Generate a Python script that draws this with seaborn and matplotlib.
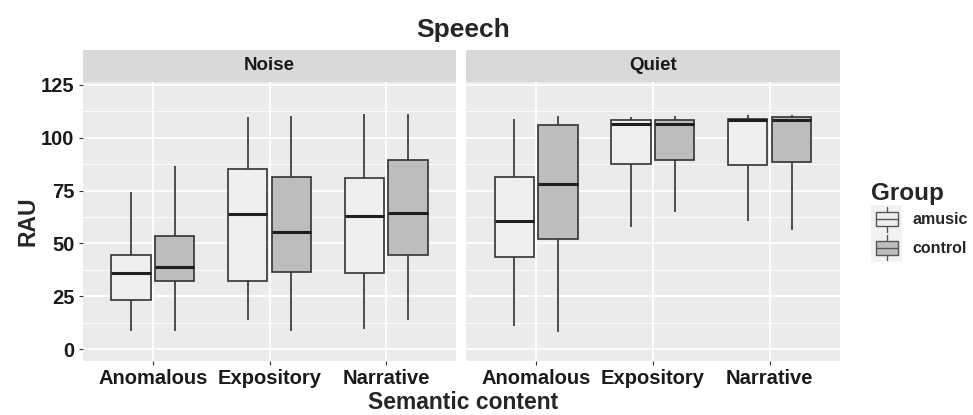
import numpy as np
import pandas as pd
import matplotlib
matplotlib.use("Agg")
import matplotlib.pyplot as plt
from matplotlib.patches import Rectangle
from matplotlib.lines import Line2D
from matplotlib.legend_handler import HandlerBase
import seaborn as sns

conditions = ["Noise", "Quiet"]
categories = ["Anomalous", "Expository", "Narrative"]
groups = ["amusic", "control"]

# five-number summaries per box: lower whisker, q1, median, q3, upper whisker
noise_amusic = [[8.4, 23.3, 36.2, 44.5, 74.2],
                [13.8, 32.3, 63.8, 85.3, 109.7],
                [9.7, 35.9, 63.1, 81.0, 111.1]]
noise_control = [[8.4, 32.3, 38.6, 53.6, 86.6],
                 [8.4, 36.6, 55.2, 81.5, 110.3],
                 [13.8, 44.3, 64.2, 89.6, 111.1]]
quiet_amusic = [[10.8, 43.7, 60.6, 81.5, 109.0],
                [57.8, 87.7, 106.3, 108.4, 109.7],
                [60.6, 87.0, 108.4, 109.0, 110.9]]
quiet_control = [[8.2, 52.2, 78.3, 106.0, 110.4],
                 [64.9, 89.6, 106.3, 108.4, 110.3],
                 [56.5, 88.3, 108.2, 109.7, 110.9]]

fill_colors = {"amusic": "#EFEFEF", "control": "#BDBDBD"}
edge = "#333333"

summaries = {("Noise", "amusic"): noise_amusic, ("Noise", "control"): noise_control,
             ("Quiet", "amusic"): quiet_amusic, ("Quiet", "control"): quiet_control}
rows = []
for (cond, grp), boxes in summaries.items():
    for cat, five in zip(categories, boxes):
        for v in five:
            rows.append((cond, cat, grp, v))
df = pd.DataFrame(rows, columns=["Condition", "Semantic", "Group", "RAU"])

sns.set_theme(style="darkgrid")
plt.rcParams["font.family"] = ["Liberation Sans", "DejaVu Sans"]
plt.rcParams["font.weight"] = "bold"

fig = plt.figure(figsize=(9.73, 4.15), dpi=100)
axes = [fig.add_axes([0.085, 0.131, 0.384, 0.672]),
        fig.add_axes([0.479, 0.131, 0.384, 0.672])]

for i, (ax, cond) in enumerate(zip(axes, conditions)):
    sub = df[df["Condition"] == cond]
    sns.boxplot(data=sub, x="Semantic", y="RAU", hue="Group", order=categories,
                hue_order=groups, palette=fill_colors, saturation=1, whis=(0, 100),
                width=0.75, gap=0.1, linecolor=edge, linewidth=1.2, fliersize=0,
                showcaps=False, medianprops=dict(color="#1f1f1f", linewidth=2.2),
                legend=False, ax=ax)
    ax.set_facecolor("#EBEBEB")
    ax.set_xlim(-0.6, 2.6)
    ax.set_ylim(-5.5, 126.5)
    ax.set_yticks([0, 25, 50, 75, 100, 125])
    ax.set_yticks(np.arange(12.5, 125, 25), minor=True)
    ax.grid(which="major", color="white", linewidth=1.3)
    ax.grid(which="minor", axis="y", color="white", linewidth=0.6)
    ax.set_axisbelow(True)
    for s in ax.spines.values():
        s.set_visible(False)
    ax.tick_params(axis="both", which="major", length=3, width=0.8, color="#333333",
                   labelsize=14.5, labelcolor="#1a1a1a", pad=3, bottom=True, left=(i == 0))
    ax.tick_params(which="minor", length=0)
    for lbl in ax.get_xticklabels() + ax.get_yticklabels():
        lbl.set_fontweight("bold")
    ax.set_xlabel("")
    ax.set_ylabel("")
    if i == 1:
        ax.set_yticklabels([])
    # facet strip
    ax.add_patch(Rectangle((0, 1.0), 1, 0.115, transform=ax.transAxes,
                           facecolor="#D9D9D9", edgecolor="none", clip_on=False))
    ax.text(0.5, 1.0575, cond, transform=ax.transAxes, ha="center", va="center",
            fontsize=13.5, fontweight="bold", color="#1a1a1a")

axes[0].set_ylabel("RAU", fontsize=16.5, fontweight="bold", labelpad=1)
fig.text(0.476, 0.030, "Semantic content", ha="center", va="center",
         fontsize=16.5, fontweight="bold")
fig.text(0.476, 0.928, "Speech", ha="center", va="center",
         fontsize=19, fontweight="bold")


class BoxKey(HandlerBase):
    def create_artists(self, legend, orig, xd, yd, w, h, fontsize, trans):
        x0, y0 = -xd, -yd
        bg = Rectangle((x0, y0), w, h, facecolor="#F2F2F2",
                       edgecolor="none", transform=trans)
        cx = x0 + w / 2
        bw = w * 0.72
        box = Rectangle((cx - bw / 2, y0 + h * 0.25), bw, h * 0.5,
                        facecolor=orig.get_facecolor(), edgecolor="#555555",
                        linewidth=1.0, transform=trans)
        med = Line2D([cx - bw / 2, cx + bw / 2], [y0 + h * 0.5] * 2,
                     color="#555555", linewidth=1.0, transform=trans)
        wl = Line2D([cx, cx], [y0 + h * 0.05, y0 + h * 0.25], color="#555555",
                    linewidth=1.0, transform=trans)
        wh = Line2D([cx, cx], [y0 + h * 0.75, y0 + h * 0.95], color="#555555",
                    linewidth=1.0, transform=trans)
        return [bg, wl, wh, box, med]


handles = [Rectangle((0, 0), 1, 1, facecolor=fill_colors[g]) for g in groups]
leg = fig.legend(handles, groups, handler_map={Rectangle: BoxKey()},
                 loc="center left", bbox_to_anchor=(0.884, 0.465), frameon=False,
                 title="Group", fontsize=11.5, title_fontsize=17.5,
                 handlelength=1.95, handleheight=2.35, handletextpad=0.6,
                 labelspacing=0.0, alignment="left", borderpad=0.2)
leg.get_title().set_fontweight("bold")
for t in leg.get_texts():
    t.set_fontweight("bold")

fig.savefig("out.png", dpi=100)
